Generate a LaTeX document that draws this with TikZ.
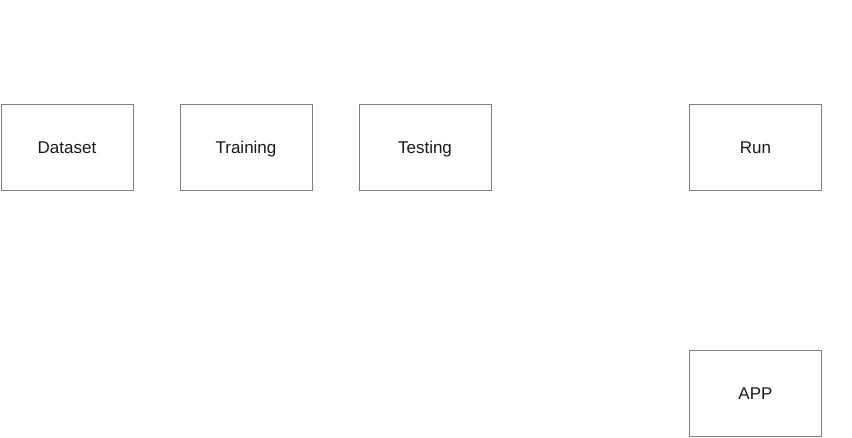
\documentclass[tikz,border=0pt]{standalone}
\usepackage{fontspec}
\setmainfont{Liberation Sans}
\begin{document}
\begin{tikzpicture}[x=1pt,y=1pt,
  box/.style={draw=black!50, line width=1pt, minimum width=132pt, minimum height=86pt, inner sep=0pt, text height=14pt, text depth=1.5pt, font=\fontsize{17}{20}\selectfont, text=black!90}]
\useasboundingbox (0,0) rectangle (852,437);
\node[box] (dataset) at (67,289.5) {Dataset};
\node[box] (training) at (246,289.5) {Training};
\node[box] (testing) at (425,289.5) {Testing};
\node[box] (run) at (755.5,289.5) {Run};
\node[box] (app) at (755.5,43.5) {APP};
\end{tikzpicture}
\end{document}
